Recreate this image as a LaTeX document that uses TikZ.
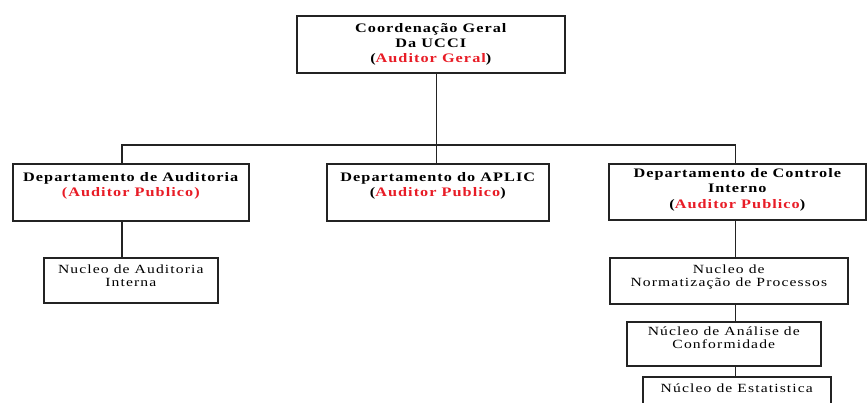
\documentclass[tikz,border=0pt]{standalone}
\usepackage{fontspec}
\setmainfont{Liberation Serif}
\usetikzlibrary{calc}
\definecolor{audred}{RGB}{232,28,38}
\definecolor{lineclr}{RGB}{35,35,35}
\newcommand\hb[1]{{\fontsize{13}{15}\selectfont\bfseries\addfontfeatures{FakeStretch=1.25,LetterSpace=8}#1\par}}
\newcommand\hbb[1]{{\fontsize{13}{15.5}\selectfont\bfseries\addfontfeatures{FakeStretch=1.25,LetterSpace=8}#1\par}}
\newcommand\hn[1]{{\fontsize{12.5}{13}\selectfont\addfontfeatures{FakeStretch=1.25,LetterSpace=9}#1\par}}
\newcommand\rd[1]{\textcolor{audred}{#1}}
\newcommand\bxc[6]{\node[orgbox] (#1) at (#2,#3) {\parbox[c][#5pt][t]{#4pt}{\centering #6}};}
\begin{document}
\begin{tikzpicture}[x=1pt,y=-1pt,
  orgbox/.style={draw=lineclr,line width=1.6pt,inner sep=0pt,anchor=north west,align=center},
  link/.style={draw=lineclr,line width=1.6pt}]
\useasboundingbox (0,0) rectangle (867,403);
\clip (0,0) rectangle (867,403);
\bxc{top}{296}{15}{268}{57}{\vspace{8pt}\hb{Coordenação Geral\\ Da UCCI\\ (\rd{Auditor Geral})}}
\bxc{d1}{12}{163}{236}{57}{\vspace{8.5pt}\hb{Departamento de Auditoria\\ \rd{(Auditor Publico)}}}
\bxc{d2}{326}{163}{222}{57}{\vspace{8.5pt}\hb{Departamento do APLIC\\ (\rd{Auditor Publico})}}
\bxc{d3}{608}{163}{257}{56}{\vspace{4.5pt}\hbb{Departamento de Controle\\ Interno\\ (\rd{Auditor Publico})}}
\bxc{n1}{43}{257}{174}{45}{\vspace{7pt}\hn{Nucleo de Auditoria\\ Interna}}
\bxc{n2}{609}{257}{238}{46}{\vspace{7pt}\hn{Nucleo de\\ Normatização de Processos}}
\bxc{n3}{626}{321}{194}{44}{\vspace{5pt}\hn{Núcleo de Análise de\\ Conformidade}}
\bxc{n4}{642}{376}{188}{40}{\vspace{7pt}\hn{Núcleo de Estatistica}}
\coordinate (j) at (436.5,145);
\coordinate (hl) at (122,145);
\coordinate (hr) at (735.5,145);
\draw[link] (top.south -| j) -- (d2.north -| j);
\draw[link] (d1.north -| hl) -- (hl) -- (hr) -- (d3.north -| hr);
\draw[link] (d1.south -| hl) -- (n1.north -| hl);
\draw[link] (d3.south -| hr) -- (n2.north -| hr);
\draw[link] (n2.south -| hr) -- (n3.north -| hr);
\draw[link] (n3.south -| hr) -- (n4.north -| hr);
\end{tikzpicture}
\end{document}
